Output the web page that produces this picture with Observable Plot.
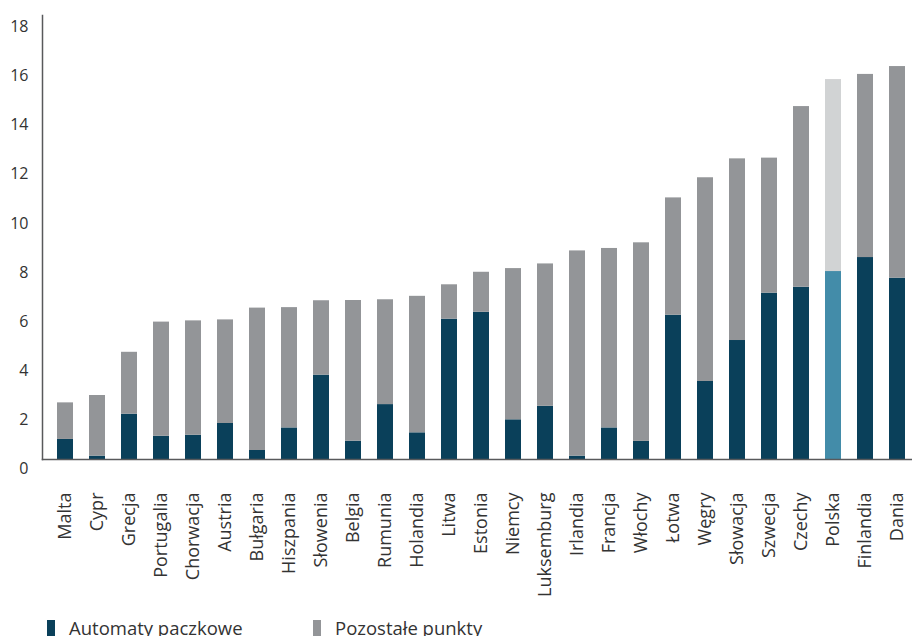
<!DOCTYPE html>
<html lang="pl">
<head>
<meta charset="utf-8">
<script src="https://cdn.jsdelivr.net/npm/d3@7"></script>
<script src="https://cdn.jsdelivr.net/npm/@observablehq/plot@0.6"></script>
<style>
  body { margin: 0; background: #fff; font-family: "Open Sans", sans-serif; }
  #chart svg { display: block; }
  .legend { display: flex; padding-top: 7px; padding-left: 47px; font-size: 18.5px; line-height: 18.5px; color: #333; white-space: nowrap; }
  .legend .item { display: flex; align-items: flex-start; }
  .legend .item:first-child { width: 266px; }
  .legend .swatch { width: 8px; height: 18px; margin-top: 1px; margin-right: 14px; }
</style>
</head>
<body>
<div id="chart"></div>
<div class="legend" id="legend"></div>
<script>
// Countries, sorted by the total number of points
const countries = ["Malta", "Cypr", "Grecja", "Portugalia", "Chorwacja", "Austria", "Bułgaria",
  "Hiszpania", "Słowenia", "Belgia", "Rumunia", "Holandia", "Litwa", "Estonia", "Niemcy",
  "Luksemburg", "Irlandia", "Francja", "Włochy", "Łotwa", "Węgry", "Słowacja", "Szwecja",
  "Czechy", "Polska", "Finlandia", "Dania"];

// Parcel lockers
const lockers = [1.20, 0.52, 2.23, 1.33, 1.37, 1.85, 0.75, 1.67, 3.82, 1.13, 2.62, 1.47, 6.10,
  6.38, 2.00, 2.55, 0.52, 1.67, 1.12, 6.26, 3.56, 5.23, 7.16, 7.40, 8.04, 8.61, 7.77];

// All points (lockers + other points)
const totals = [2.69, 2.99, 4.75, 5.98, 6.03, 6.07, 6.55, 6.57, 6.85, 6.86, 6.89, 7.03, 7.50,
  8.01, 8.16, 8.35, 8.88, 8.98, 9.21, 11.04, 11.86, 12.63, 12.66, 14.76, 15.86, 16.07, 16.39];

const yTicks = [0, 2, 4, 6, 8, 10, 12, 14, 16, 18];
const seriesNames = ["Automaty paczkowe", "Pozostałe punkty"];
const highlight = "Polska";

const colorKeys = [seriesNames[0], seriesNames[1], seriesNames[0] + " – " + highlight, seriesNames[1] + " – " + highlight];
const colorRange = ["#0a405a", "#939598", "#438ca9", "#d1d3d4"];

// One row per stacked segment
const rows = countries.flatMap((c, i) => {
  const tag = c === highlight ? " – " + highlight : "";
  return [
    {country: c, y1: 0, y2: lockers[i], key: seriesNames[0] + tag},
    {country: c, y1: lockers[i], y2: totals[i], key: seriesNames[1] + tag}
  ];
});

const chart = Plot.plot({
  width: 912,
  height: 612,
  marginTop: 15,
  marginBottom: 153,
  marginLeft: 42,
  marginRight: 0,
  style: {fontFamily: "'Open Sans', sans-serif", fontSize: "16px", color: "#333", background: "#fff"},
  x: {type: "band", domain: countries, range: [33.75, 927.5], padding: 0.5},
  y: {domain: [0, 18.47], range: [468.4, 15]},
  color: {domain: colorKeys, range: colorRange},
  marks: [
    Plot.barY(rows, {x: "country", y1: "y1", y2: "y2", fill: "key", clip: true}),
    Plot.frame({anchor: "left", stroke: "#58595b", strokeWidth: 1.5}),
    Plot.frame({anchor: "bottom", stroke: "#58595b", strokeWidth: 1.5}),
    Plot.axisY({ticks: yTicks, tickSize: 0, tickPadding: 14, fontSize: 16, label: null}),
    Plot.axisX({tickSize: 0, tickPadding: 33, tickRotate: -90, fontSize: 18, label: null})
  ]
});
document.getElementById("chart").append(chart);

// Legend below the chart
const legend = d3.select("#legend");
seriesNames.forEach((name, i) => {
  const item = legend.append("div").attr("class", "item");
  item.append("div").attr("class", "swatch").style("background", colorRange[i]);
  item.append("span").text(name);
});
</script>
</body>
</html>
